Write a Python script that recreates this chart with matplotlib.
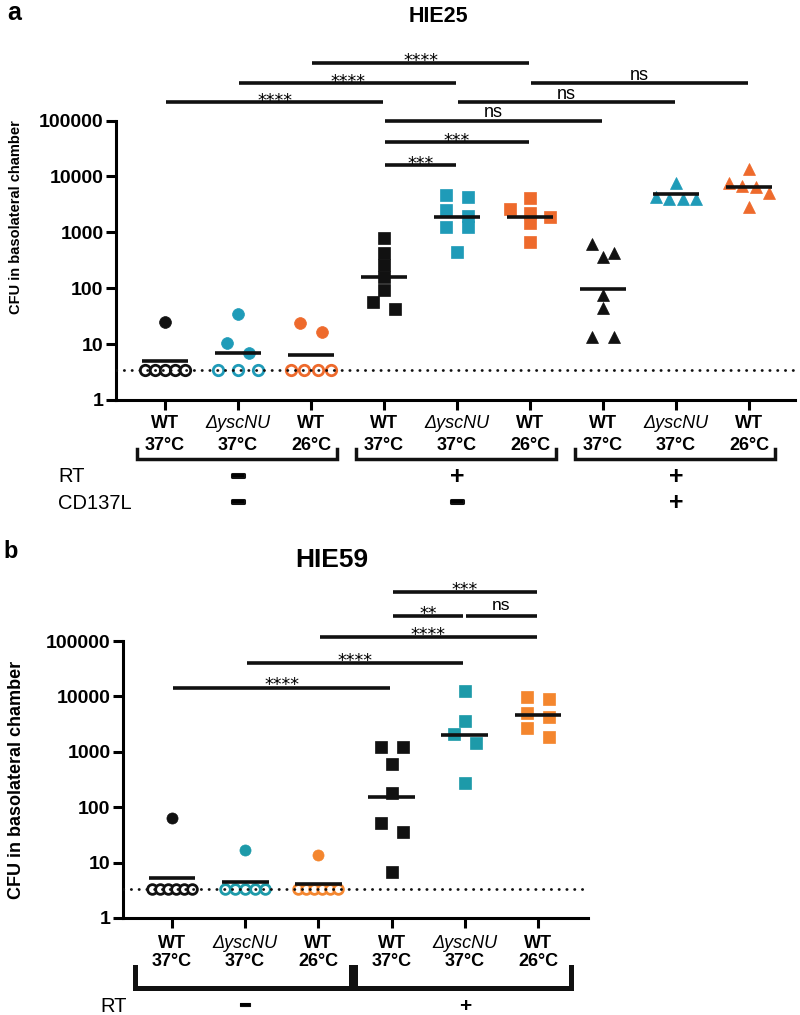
import matplotlib.pyplot as plt
import matplotlib.patheffects as pe
import numpy as np
from matplotlib.ticker import NullLocator
from matplotlib.transforms import blended_transform_factory

plt.rcParams["font.family"] = ["Liberation Sans", "DejaVu Sans"]

W, H = 800, 1015

# ---- values ----
strains = ["WT", "ΔyscNU", "WT"]
temps = ["37°C", "37°C", "26°C"]
y_ticks = [1, 10, 100, 1000, 10000, 100000]

# HIE25 (panel a)
hie25_values = [
    [25, 3.4, 3.4, 3.4, 3.4, 3.4],
    [34, 10.4, 6.9, 3.4, 3.4, 3.4],
    [23.7, 16.3, 3.4, 3.4, 3.4, 3.4],
    [780, 420, 257, 158, 92, 56, 42],
    [4650, 4270, 2500, 1960, 1245, 1245, 443],
    [4110, 2610, 2215, 1880, 1467, 670],
    [620, 425, 362, 75, 44, 13.4, 13.4],
    [7600, 4250, 3940, 3940, 3940],
    [13400, 7710, 6730, 6380, 5110, 2870],
]
hie25_means = [4.98, 6.85, 6.3, 161, 1890, 1880, 97, 4790, 6550]
hie25_lod = 3.4
hie25_rt = ["−", "+", "+"]
hie25_cd137l = ["−", "−", "+"]
hie25_pairs = [(2, 5), (1, 4), (5, 8), (0, 3), (4, 7), (3, 6), (3, 5), (3, 4)]
hie25_stars = ["****", "****", "ns", "****", "ns", "ns", "***", "***"]

# HIE59 (panel b)
hie59_values = [
    [64, 3.35, 3.35, 3.35, 3.35, 3.35, 3.35],
    [16.9, 3.35, 3.35, 3.35, 3.35, 3.35],
    [13.7, 3.35, 3.35, 3.35, 3.35, 3.35, 3.35],
    [1240, 1240, 600, 178, 52.5, 36, 6.7],
    [12500, 3600, 2100, 1420, 277],
    [9640, 8980, 5080, 4300, 2660, 1870],
]
hie59_means = [5.2, 4.4, 4.06, 155, 2040, 4620]
hie59_lod = 3.35
hie59_rt = ["−", "+"]
hie59_pairs = [(3, 5), (3, 4), (4, 5), (2, 5), (1, 4), (0, 3)]
hie59_stars = ["***", "**", "ns", "****", "****", "****"]

# ---- layout ----
BLACK = "#111111"
TEAL_A, ORANGE_A = "#1f9bb8", "#ee6a2c"
TEAL_B, ORANGE_B = "#1d9aa9", "#f4862e"
levels_a = [6.03, 5.67, 5.67, 5.33, 5.33, 5.0, 4.61, 4.2]   # log10 height of each bar
levels_b = [5.885, 5.45, 5.45, 5.07, 4.6, 4.157]

fig = plt.figure(figsize=(W / 100, H / 100), dpi=100)


def fy(ypx):
    return 1 - ypx / H


def px_axes(left, top, right, bottom):
    return fig.add_axes([left / W, fy(bottom), (right - left) / W, (bottom - top) / H])


def setup(ax, n, xlim, tick_size):
    ax.set_yscale("log")
    ax.set_ylim(1, 1e5)
    ax.set_xlim(*xlim)
    ax.set_autoscale_on(False)
    ax.spines[["top", "right"]].set_visible(False)
    ax.spines[["left", "bottom"]].set_linewidth(2.2)
    ax.set_yticks(y_ticks, [str(t) for t in y_ticks])
    ax.yaxis.set_minor_locator(NullLocator())
    ax.set_xticks(range(n), [""] * n)
    ax.tick_params(length=7, width=2.2, labelsize=tick_size, pad=2)
    for lab in ax.get_yticklabels():
        lab.set_fontweight("bold")


def row_offsets(ax, vals, size):
    # Prism-like layout: points close in y share a row, rows are centred
    ys = ax.transData.transform(np.column_stack([np.zeros(len(vals)), vals]))[:, 1]
    offs = np.zeros(len(vals))

    def flush(row):
        n = len(row)
        step = min(22, 40 / max(n - 1, 1))
        for k, j in enumerate(row):
            offs[j] = (k - (n - 1) / 2) * step

    row = []
    for i in np.argsort(-ys, kind="stable"):
        if row and ys[row[0]] - ys[i] > 0.85 * size:
            flush(row)
            row = []
        row.append(i)
    if row:
        flush(row)
    return offs


def dots(ax, values, means, lod, colors, markers, ms):
    ppx = ax.transData.transform((1, 1))[0] - ax.transData.transform((0, 1))[0]
    for i, vals in enumerate(values):
        vals = np.asarray(vals, float)
        low = vals <= lod
        offs = np.zeros(len(vals))
        offs[~low] = row_offsets(ax, vals[~low], ms * 100 / 72 + 1)
        offs[low] = row_offsets(ax, vals[low], ms * 100 / 72)
        offs = offs / ppx
        ax.plot(i + offs[~low], vals[~low], ls="none", marker=markers[i], ms=ms,
                mfc=colors[i], mec=colors[i], mew=0.5, zorder=3)
        ax.plot(i + offs[low], vals[low], ls="none", marker="o", ms=ms - 1,
                mfc="white", mec=colors[i], mew=2.0, zorder=3)
        ax.hlines(means[i], i - 0.32, i + 0.32, color=BLACK, lw=2.6, zorder=4)
    ax.axhline(lod, color=BLACK, ls=(0, (0.1, 2.7)), lw=2.0,
               dash_capstyle="round", zorder=5)


def sig_bars(ax, pairs, labels, levels, star_off, ns_off, ns_size):
    for (a, b), lab, lev in zip(pairs, labels, levels):
        y = 10**lev
        ax.plot([a + 0.02, b - 0.02], [y, y], color=BLACK, lw=2.6,
                solid_capstyle="butt", clip_on=False)
        if lab == "ns":
            ax.annotate(lab, ((a + b) / 2, y), xytext=(0, ns_off), textcoords="offset points",
                        ha="center", va="baseline", fontsize=ns_size, annotation_clip=False)
        else:
            ax.annotate(lab, ((a + b) / 2, y), xytext=(0, star_off), textcoords="offset points",
                        ha="center", va="baseline", fontsize=12.6, family="DejaVu Sans",
                        annotation_clip=False)


def group_labels(ax, n, y1, y2, yb, ytop, blw, pads, size):
    tr = blended_transform_factory(ax.transData, fig.transFigure)
    for i in range(n):
        s = strains[i % 3]
        if s.startswith("Δ"):
            ax.text(i, fy(y1), s, transform=tr, ha="center", va="center",
                    fontsize=size, style="italic")
        else:
            ax.text(i, fy(y1), s, transform=tr, ha="center", va="center",
                    fontsize=size, fontweight="bold")
        ax.text(i, fy(y2), temps[i % 3], transform=tr, ha="center", va="center",
                fontsize=size, fontweight="bold")
    for g in range(n // 3):
        x0, x1 = 3 * g - pads[0], 3 * g + 2 + pads[1]
        ax.plot([x0, x0, x1, x1], [fy(ytop), fy(yb), fy(yb), fy(ytop)], transform=tr,
                color=BLACK, lw=blw, clip_on=False, solid_joinstyle="miter")
    return tr


def sign(ax, tr, x, ypx, s, size, thick):
    fx = [pe.withStroke(linewidth=thick, foreground=BLACK)] if s == "−" else None
    ax.text(x, fy(ypx), s, transform=tr, ha="center", va="center", fontsize=size,
            fontweight="bold", path_effects=fx)


# ---------------- panel a ----------------
ax = px_axes(116, 120.5, 795, 400)
setup(ax, 9, (-0.671, 8.63), 14)
cols_a = [BLACK, TEAL_A, ORANGE_A] * 3
marks_a = ["o"] * 3 + ["s"] * 3 + ["^"] * 3
dots(ax, hie25_values, hie25_means, hie25_lod, cols_a, marks_a, 8.5)
sig_bars(ax, hie25_pairs, hie25_stars, levels_a, -2.5, 2.4, 13)
tr = group_labels(ax, 9, 424, 446, 459, 449, 2.5, (0.38, 0.36), 13)
fig.text(58 / W, fy(477), "RT", fontsize=14.5, va="center")
fig.text(58 / W, fy(503), "CD137L", fontsize=14.5, va="center")
for g in range(3):
    sign(ax, tr, 3 * g + 1, 477, hie25_rt[g], 18, 2.2)
    sign(ax, tr, 3 * g + 1, 503, hie25_cd137l[g], 18, 2.2)
fig.text(16 / W, fy(217), "CFU in basolateral chamber", rotation=90, ha="center",
         va="center", fontsize=10.5, fontweight="bold")
fig.text(7 / W, fy(20), "a", fontsize=18, fontweight="bold", va="baseline")
fig.text(438 / W, fy(22), "HIE25", fontsize=15.5, fontweight="bold", ha="center",
         va="baseline")

# ---------------- panel b ----------------
ax = px_axes(123, 641, 588, 918)
setup(ax, 6, (-0.669, 5.683), 14)
cols_b = [BLACK, TEAL_B, ORANGE_B] * 2
marks_b = ["o"] * 3 + ["s"] * 3
dots(ax, hie59_values, hie59_means, hie59_lod, cols_b, marks_b, 8)
sig_bars(ax, hie59_pairs, hie59_stars, levels_b, -2, 4.3, 12.5)
tr = group_labels(ax, 6, 944, 962, 988, 967, 3.6, (0.5, 0.45), 13)
fig.text(100 / W, fy(1006), "RT", fontsize=14.5, va="center")
for g in range(2):
    sign(ax, tr, 3 * g + 1, 1006, hie59_rt[g], 15, 0.8)
fig.text(17 / W, fy(780), "CFU in basolateral chamber", rotation=90, ha="center",
         va="center", fontsize=13, fontweight="bold")
fig.text(3 / W, fy(558), "b", fontsize=17, fontweight="bold", va="baseline")
fig.text(332 / W, fy(567), "HIE59", fontsize=19, fontweight="bold", ha="center",
         va="baseline")

fig.savefig("out.png", dpi=100)
